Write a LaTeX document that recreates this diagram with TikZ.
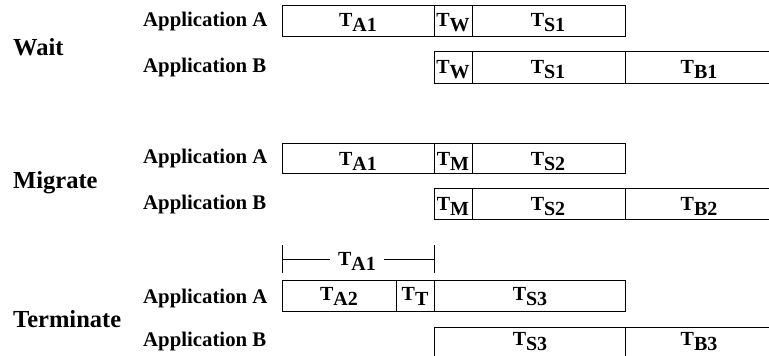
\documentclass[tikz,border=0pt]{standalone}
\usepackage{fontspec}
\setmainfont{Liberation Serif}
\newcommand\Tsub[1]{T\raisebox{-5pt}{#1}}
\tikzset{
  seg/.style={draw, line width=1pt},
  brk/.style={draw, line width=0.9pt},
  lbl/.style={anchor=base, inner sep=0pt, font=\fontsize{20}{24}\selectfont\bfseries},
  app/.style={anchor=base west, inner sep=0pt, font=\fontsize{20.8}{24}\selectfont\bfseries},
  big/.style={anchor=base west, inner sep=0pt, font=\fontsize{24.5}{28}\selectfont\bfseries}
}
\begin{document}
\begin{tikzpicture}[x=1pt,y=-1pt]
\useasboundingbox (0,0) rectangle (769,356);
% ---------- Wait ----------
\node[big] (wait) at (13,55) {Wait};
\node[app] (wAppA) at (143,27) {Application A};
\node[app] (wAppB) at (143,72) {Application B};
\draw[seg] (282,5) rectangle (625,36);
\draw[seg] (434,5) -- (434,36);
\draw[seg] (472,5) -- (472,36);
\node[lbl] (wA1) at (358,27) {\Tsub{A1}};
\node[lbl] (wAW) at (453,27) {\Tsub{W}};
\node[lbl] (wAS) at (548,27) {\Tsub{S1}};
\draw[seg] (434,51) rectangle (775,83);
\draw[seg] (472,51) -- (472,83);
\draw[seg] (625,51) -- (625,83);
\node[lbl] (wBW) at (453,73) {\Tsub{W}};
\node[lbl] (wBS) at (548,73) {\Tsub{S1}};
\node[lbl] (wBB) at (699,73) {\Tsub{B1}};
% ---------- Migrate ----------
\node[big] (migrate) at (13,188) {Migrate};
\node[app] (mAppA) at (143,163) {Application A};
\node[app] (mAppB) at (143,209) {Application B};
\draw[seg] (282,143) rectangle (625,173);
\draw[seg] (434,143) -- (434,173);
\draw[seg] (472,143) -- (472,173);
\node[lbl] (mA1) at (358,165) {\Tsub{A1}};
\node[lbl] (mAM) at (453,165) {\Tsub{M}};
\node[lbl] (mAS) at (548,165) {\Tsub{S2}};
\draw[seg] (434,188) rectangle (775,219);
\draw[seg] (472,188) -- (472,219);
\draw[seg] (625,188) -- (625,219);
\node[lbl] (mBM) at (453,210) {\Tsub{M}};
\node[lbl] (mBS) at (548,210) {\Tsub{S2}};
\node[lbl] (mBB) at (699,210) {\Tsub{B2}};
% ---------- Terminate ----------
\node[big] (terminate) at (13,327) {Terminate};
\node[app] (tAppA) at (143,303) {Application A};
\node[app] (tAppB) at (143,346) {Application B};
\node[lbl, inner xsep=8pt] (tTA1) at (357,265) {\Tsub{A1}};
\coordinate (tl) at (282,259);
\coordinate (tr) at (434,259);
\draw[brk] (282,245) -- (282,273);
\draw[brk] (434,245) -- (434,273);
\draw[brk] (tl) -- (tl -| tTA1.west);
\draw[brk] (tr -| tTA1.east) -- (tr);
\draw[seg] (282,280) rectangle (625,311);
\draw[seg] (396,280) -- (396,311);
\draw[seg] (434,280) -- (434,311);
\node[lbl] (tA2) at (339,300) {\Tsub{A2}};
\node[lbl] (tAT) at (415,300) {\Tsub{T}};
\node[lbl] (tAS) at (530,300) {\Tsub{S3}};
\draw[seg] (434,327) rectangle (775,358);
\draw[seg] (625,327) -- (625,358);
\node[lbl] (tBS) at (530,345) {\Tsub{S3}};
\node[lbl] (tBB) at (699,345) {\Tsub{B3}};
\end{tikzpicture}
\end{document}
